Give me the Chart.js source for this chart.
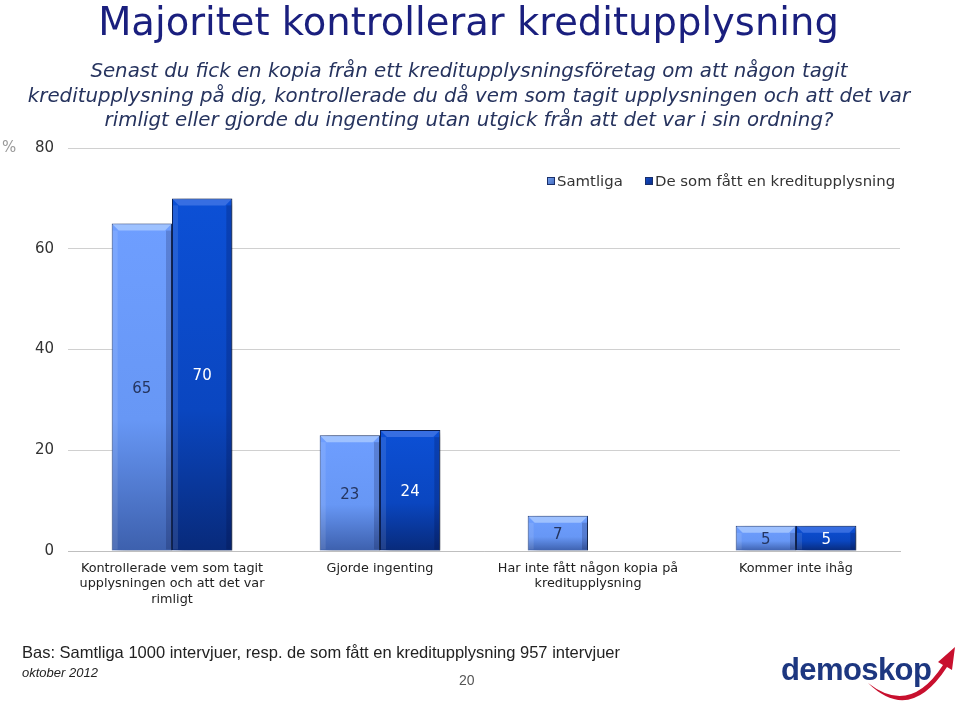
<!DOCTYPE html>
<html>
<head>
<meta charset="utf-8">
<script src="https://cdn.jsdelivr.net/npm/chart.js@4/dist/chart.umd.min.js"></script>
<style>
  html,body{margin:0;padding:0;background:#fff;}
  body{width:960px;height:708px;position:relative;overflow:hidden;font-family:"DejaVu Sans",sans-serif;}
  #wrap{position:absolute;left:0;top:0;width:960px;height:708px;}
  .t{position:absolute;white-space:nowrap;}
  #title{left:0;width:937px;text-align:center;top:-2px;font-size:38.5px;color:#1a1f7e;line-height:48px;}
  #sub{left:0;width:938px;text-align:center;top:59px;font-size:19.8px;font-style:italic;color:#26335e;line-height:24.5px;}
  #pct{left:2px;top:138px;font-size:15px;color:#999;}
  #bas{left:22px;top:643px;font-family:"Liberation Sans",sans-serif;font-size:16.5px;color:#222;}
  #okt{left:22px;top:665px;font-family:"Liberation Sans",sans-serif;font-style:italic;font-size:13px;color:#222;}
  #pg{left:459px;top:672px;font-family:"Liberation Sans",sans-serif;font-size:14px;color:#555;}
  #logo{left:781px;top:652px;font-family:"Liberation Sans",sans-serif;font-weight:bold;font-size:31px;color:#1d3780;letter-spacing:-0.6px;}
  #swoosh{position:absolute;left:855px;top:640px;}
</style>
</head>
<body>
<div id="wrap"><canvas id="c" width="960" height="708"></canvas></div>
<div class="t" id="title">Majoritet kontrollerar kreditupplysning</div>
<div class="t" id="sub">Senast du fick en kopia från ett kreditupplysningsföretag om att någon tagit<br>kreditupplysning på dig, kontrollerade du då vem som tagit upplysningen och att det var<br>rimligt eller gjorde du ingenting utan utgick från att det var i sin ordning?</div>
<div class="t" id="pct">%</div>
<div class="t" id="bas">Bas: Samtliga 1000 intervjuer, resp. de som fått en kreditupplysning 957 intervjuer</div>
<div class="t" id="okt">oktober 2012</div>
<div class="t" id="pg">20</div>
<div class="t" id="logo">demoskop</div>
<svg id="swoosh" width="105" height="68" viewBox="0 0 105 68">
  <path d="M13 43 Q55 76 88 25 L83 22 L100 7 L97 30 L92 27 Q55 84 13 43 Z" fill="#c8102e"/>
</svg>
<script>
const categories = [
  ["Kontrollerade vem som tagit", "upplysningen och att det var", "rimligt"],
  ["Gjorde ingenting"],
  ["Har inte fått någon kopia på", "kreditupplysning"],
  ["Kommer inte ihåg"]
];
const seriesNames = ["Samtliga", "De som fått en kreditupplysning"];
const samtliga = [65, 23, 7, 5];
const fattKredit = [70, 24, null, 5];
const yTicks = [0, 20, 40, 60, 80];

function barGrad(c, top, mid, bot) {
  const chart = c.chart;
  const y = chart.scales && chart.scales.y;
  if (!y || c.raw === null || c.raw === undefined || !chart.chartArea) return mid;
  const yt = y.getPixelForValue(c.raw);
  const yb = y.getPixelForValue(0);
  if (!isFinite(yt) || !isFinite(yb) || yb - yt < 1) return mid;
  const g = chart.ctx.createLinearGradient(0, yt, 0, yb);
  g.addColorStop(0, top);
  g.addColorStop(0.6, mid);
  g.addColorStop(1, bot);
  return g;
}

const shadowPlugin = {
  id: 'shadow',
  beforeDatasetsDraw(chart) {
    const ctx = chart.ctx;
    ctx.save();
    ctx.shadowColor = 'rgba(0,0,0,0.45)';
    ctx.shadowBlur = 7;
    ctx.shadowOffsetX = 6;
    ctx.shadowOffsetY = 2;
  },
  afterDatasetsDraw(chart) {
    chart.ctx.restore();
    const ctx = chart.ctx;
    chart.data.datasets.forEach((ds, di) => {
      const meta = chart.getDatasetMeta(di);
      meta.data.forEach((bar, i) => {
        const v = ds.data[i];
        if (v === null || v === undefined) return;
        const w = bar.width;
        const x0 = bar.x - w / 2, x1 = bar.x + w / 2;
        const yt = bar.y, yb = bar.base;
        ctx.save();
        ctx.fillStyle = di === 0 ? 'rgba(175,205,255,0.75)' : 'rgba(70,120,230,0.75)';
        ctx.beginPath();
        ctx.moveTo(x0 + 1, yt + 1);
        ctx.lineTo(x1 - 1, yt + 1);
        ctx.lineTo(x1 - 7, yt + 7);
        ctx.lineTo(x0 + 7, yt + 7);
        ctx.closePath();
        ctx.fill();
        ctx.fillStyle = 'rgba(0,0,40,0.18)';
        ctx.fillRect(x1 - 6, yt + 7, 5, yb - yt - 8);
        ctx.fillStyle = 'rgba(255,255,255,0.10)';
        ctx.fillRect(x0 + 1, yt + 7, 5, yb - yt - 8);
        ctx.restore();
        ctx.save();
        ctx.font = '15px "DejaVu Sans"';
        ctx.textAlign = 'center';
        ctx.textBaseline = 'middle';
        ctx.fillStyle = di === 0 ? '#25355f' : '#ffffff';
        ctx.fillText(String(v), bar.x, (yt + yb) / 2 + 2);
        ctx.restore();
      });
    });
  }
};

const legendPlugin = {
  id: 'customLegend',
  afterDraw(chart) {
    const ctx = chart.ctx;
    const items = [
      {x: 547, label: seriesNames[0], c1: '#7aa6f5', c2: '#3e66b8'},
      {x: 645, label: seriesNames[1], c1: '#1450d0', c2: '#0a2a80'}
    ];
    const y = 181;
    ctx.save();
    ctx.font = '14.9px "DejaVu Sans"';
    ctx.textBaseline = 'middle';
    items.forEach(it => {
      const g = ctx.createLinearGradient(it.x, y - 4, it.x + 8, y + 4);
      g.addColorStop(0, it.c1);
      g.addColorStop(1, it.c2);
      ctx.fillStyle = g;
      ctx.fillRect(it.x, y - 4, 8, 8);
      ctx.strokeStyle = '#1a2f6a';
      ctx.lineWidth = 1;
      ctx.strokeRect(it.x + 0.5, y - 3.5, 7, 7);
      ctx.fillStyle = '#333';
      ctx.fillText(it.label, it.x + 10, y + 1);
    });
    ctx.restore();
  }
};

new Chart(document.getElementById('c'), {
  type: 'bar',
  data: {
    labels: categories,
    datasets: [
      {
        label: seriesNames[0],
        data: samtliga,
        backgroundColor: (c) => barGrad(c, '#6e9eff', '#6797f5', '#3d60ad'),
        borderColor: '#24407e',
        borderWidth: 1
      },
      {
        label: seriesNames[1],
        data: fattKredit,
        backgroundColor: (c) => barGrad(c, '#0c50d6', '#0a46c0', '#082a7a'),
        borderColor: '#0a1f55',
        borderWidth: 1
      }
    ]
  },
  options: {
    responsive: false,
    animation: false,
    layout: {padding: {left: 0, right: 60, top: 148, bottom: 0}},
    plugins: {
      legend: {display: false},
      tooltip: {enabled: false},
      title: {display: false}
    },
    datasets: {bar: {categoryPercentage: 0.58, barPercentage: 1.0, grouped: true}},
    scales: {
      x: {
        grid: {display: false, drawTicks: false},
        border: {display: true, color: '#bfbfbf', width: 1},
        ticks: {
          color: '#222',
          font: {family: 'DejaVu Sans', size: 12.8},
          padding: 10,
          maxRotation: 0,
          autoSkip: false
        },
        afterFit(s) { s.height = 157; }
      },
      y: {
        min: 0, max: 80,
        afterBuildTicks(s) { s.ticks = yTicks.map(v => ({value: v})); },
        grid: {color: '#d0d0d0', drawTicks: false, lineWidth: 1},
        border: {display: false},
        ticks: {
          color: '#333',
          font: {family: 'DejaVu Sans', size: 15},
          padding: 14
        },
        afterFit(s) { s.width = 68; }
      }
    }
  },
  plugins: [shadowPlugin, legendPlugin]
});
</script>
</body>
</html>
